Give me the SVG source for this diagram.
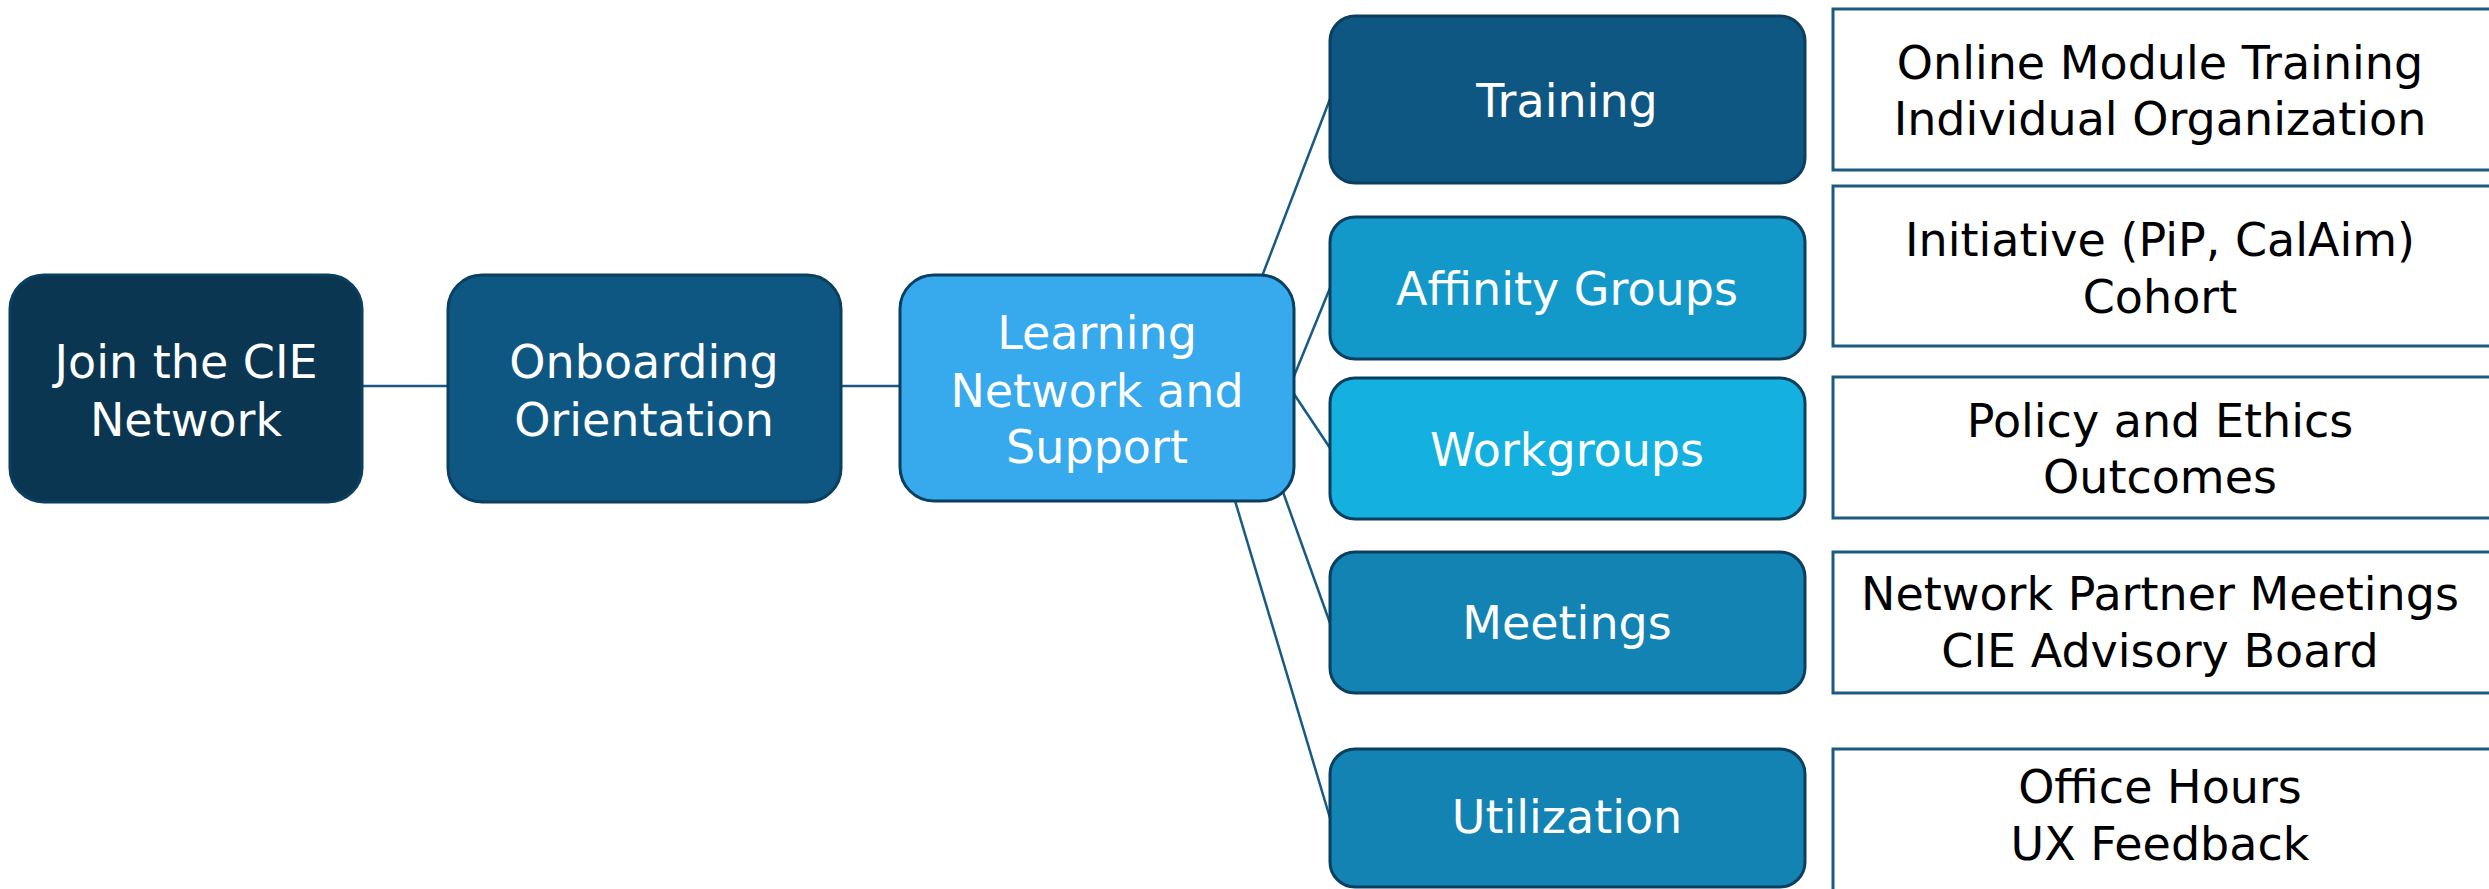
<svg xmlns="http://www.w3.org/2000/svg" width="2489" height="889" viewBox="0 0 2489 889">
  <style>
    .box { stroke: #0B3F60; stroke-width: 3; }
    .detail { fill: #FFFFFF; stroke: #1D5A82; stroke-width: 3; }
    .link { fill: none; stroke: #185A85; stroke-width: 2.5; }
    .lbl { font-family: "DejaVu Sans", "Liberation Sans", sans-serif; font-size: 46px; text-anchor: middle; }
    .w { fill: #FFFFFF; }
    .k { fill: #000000; }
  </style>
  <rect width="2489" height="889" fill="#FFFFFF"/>

  <!-- connectors -->
  <g id="connectors">
    <line class="link" x1="362" y1="386" x2="448" y2="386"/>
    <line class="link" x1="841" y1="386" x2="900" y2="386"/>
    <line class="link" x1="1256" y1="292" x2="1330" y2="99"/>
    <line class="link" x1="1290" y1="386" x2="1330" y2="288"/>
    <line class="link" x1="1290" y1="388" x2="1330" y2="448"/>
    <line class="link" x1="1278" y1="478" x2="1330" y2="623"/>
    <line class="link" x1="1230" y1="484" x2="1330" y2="818"/>
  </g>

  <!-- main flow -->
  <g id="join">
    <rect class="box" x="10" y="275" width="352" height="227" rx="34" fill="#0A3651"/>
    <text class="lbl w" x="186" y="378">Join the CIE</text>
    <text class="lbl w" x="186" y="436">Network</text>
  </g>
  <g id="onboarding">
    <rect class="box" x="448" y="275" width="393" height="227" rx="34" fill="#0F5783"/>
    <text class="lbl w" x="644" y="378">Onboarding</text>
    <text class="lbl w" x="644" y="436">Orientation</text>
  </g>
  <g id="learning">
    <rect class="box" x="900" y="275" width="394" height="226" rx="34" fill="#37A9ED"/>
    <text class="lbl w" x="1097" y="349">Learning</text>
    <text class="lbl w" x="1097" y="407">Network and</text>
    <text class="lbl w" x="1097" y="463">Support</text>
  </g>

  <!-- branches -->
  <g id="training">
    <rect class="box" x="1330" y="16" width="475" height="167" rx="25" fill="#0F5783"/>
    <text class="lbl w" x="1567" y="117">Training</text>
  </g>
  <g id="affinity-groups">
    <rect class="box" x="1330" y="217" width="475" height="142" rx="25" fill="#1399C9"/>
    <text class="lbl w" x="1567" y="305">Affinity Groups</text>
  </g>
  <g id="workgroups">
    <rect class="box" x="1330" y="378" width="475" height="141" rx="25" fill="#14B0E0"/>
    <text class="lbl w" x="1567" y="466">Workgroups</text>
  </g>
  <g id="meetings">
    <rect class="box" x="1330" y="552" width="475" height="141" rx="25" fill="#1283B3"/>
    <text class="lbl w" x="1567" y="639">Meetings</text>
  </g>
  <g id="utilization">
    <rect class="box" x="1330" y="749" width="475" height="138" rx="25" fill="#1283B3"/>
    <text class="lbl w" x="1567" y="833">Utilization</text>
  </g>

  <!-- detail panels -->
  <g id="training-detail">
    <rect class="detail" x="1833" y="9" width="680" height="161"/>
    <text class="lbl k" x="2160" y="79">Online Module Training</text>
    <text class="lbl k" x="2160" y="135">Individual Organization</text>
  </g>
  <g id="affinity-detail">
    <rect class="detail" x="1833" y="186" width="680" height="160"/>
    <text class="lbl k" x="2160" y="256">Initiative (PiP, CalAim)</text>
    <text class="lbl k" x="2160" y="313">Cohort</text>
  </g>
  <g id="workgroups-detail">
    <rect class="detail" x="1833" y="377" width="680" height="141"/>
    <text class="lbl k" x="2160" y="437">Policy and Ethics</text>
    <text class="lbl k" x="2160" y="493">Outcomes</text>
  </g>
  <g id="meetings-detail">
    <rect class="detail" x="1833" y="552" width="680" height="141"/>
    <text class="lbl k" x="2160" y="610">Network Partner Meetings</text>
    <text class="lbl k" x="2160" y="667">CIE Advisory Board</text>
  </g>
  <g id="utilization-detail">
    <rect class="detail" x="1833" y="749" width="680" height="160"/>
    <text class="lbl k" x="2160" y="803">Office Hours</text>
    <text class="lbl k" x="2160" y="860">UX Feedback</text>
  </g>
</svg>
